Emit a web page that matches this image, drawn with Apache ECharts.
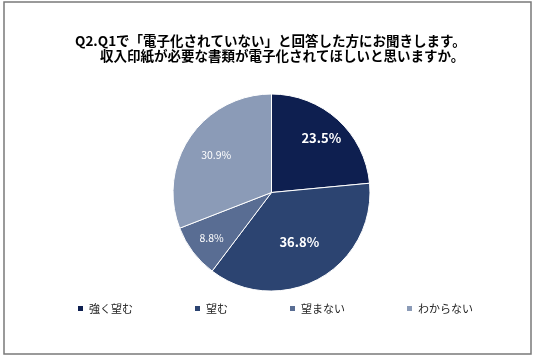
<!DOCTYPE html>
<html>
<head>
<meta charset="utf-8">
<script src="https://cdn.jsdelivr.net/npm/echarts@6/dist/echarts.min.js"></script>
<style>
html,body{margin:0;padding:0;background:#fff;}
#c{width:537px;height:359px;}
</style>
</head>
<body>
<div id="c"></div>
<script>
const titleLines = ['Q2.Q1で「電子化されていない」と回答した方にお聞きします。', '収入印紙が必要な書類が電子化されてほしいと思いますか。'];
const categories = ['強く望む', '望む', '望まない', 'わからない'];
const values = [23.5, 36.8, 8.8, 30.9];
const colors = ['#0e1f50', '#2c4471', '#596d93', '#8b9bb7'];
const boldLabel = [true, true, false, false];
// distance of each value label from the pie centre (style)
const labelDist = [71, 54, 72, 64];

const chart = echarts.init(document.getElementById('c'), null, {renderer: 'canvas'});
const font = '"Noto Sans CJK JP", "Noto Sans", sans-serif';
const CENTER = [271.5, 192.5];
const R = 98.5;

const pieData = categories.map((n, i) => ({name: n, value: values[i], itemStyle: {color: colors[i]}}));

const labelSeries = categories.map((_, k) => ({
  type: 'pie',
  center: CENTER,
  radius: [2 * labelDist[k] - R, R],
  startAngle: 90,
  clockwise: true,
  silent: true,
  legendHoverLink: false,
  z: 3,
  itemStyle: {color: 'rgba(0,0,0,0)', borderWidth: 0},
  labelLine: {show: false},
  data: categories.map((n, i) => ({
    name: n, value: values[i],
    label: i === k
      ? Object.assign({show: true},
          boldLabel[i] ? {fontSize: 13, fontWeight: 'bold'} : {fontSize: 10.5, fontWeight: 'normal'})
      : {show: false}
  })),
  label: {
    position: 'inside',
    formatter: p => p.value.toFixed(1) + '%',
    color: '#fff', fontFamily: font
  }
}));

chart.setOption({
  animation: false,
  backgroundColor: '#fff',
  title: [
    {text: titleLines[0], left: 75, top: 33, padding: 0,
     textStyle: {fontFamily: font, fontSize: 13.5, fontWeight: 'bold', color: '#000', lineHeight: 15}},
    {text: titleLines[1], left: 100, top: 48, padding: 0,
     textStyle: {fontFamily: font, fontSize: 13.5, fontWeight: 'bold', color: '#000', lineHeight: 15}}
  ],
  graphic: [{
    type: 'rect', silent: true,
    shape: {x: 4, y: 2, width: 527, height: 352},
    style: {fill: 'none', stroke: '#7a7a7a', lineWidth: 1.5}
  }],
  legend: {
    data: categories,
    left: 76, top: 303, padding: 0,
    itemWidth: 7, itemHeight: 7, itemGap: 60,
    icon: 'rect',
    selectedMode: false,
    textStyle: {fontFamily: font, fontSize: 11, color: '#222'}
  },
  series: [
    {
      type: 'pie',
      center: CENTER,
      radius: [0, R],
      startAngle: 90,
      clockwise: true,
      data: pieData,
      itemStyle: {borderColor: '#fff', borderWidth: 1},
      label: {show: false},
      labelLine: {show: false},
      silent: true
    }
  ].concat(labelSeries)
});
</script>
</body>
</html>
